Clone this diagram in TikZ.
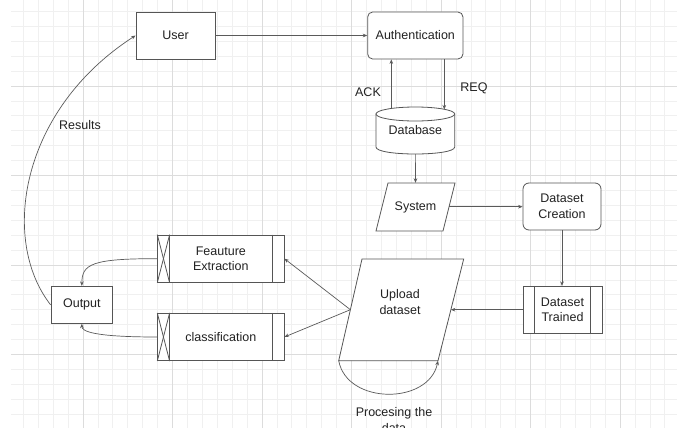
\documentclass[tikz,border=0pt]{standalone}
\usepackage{fontspec}
\setmainfont{Liberation Sans}
\usetikzlibrary{arrows.meta}
\definecolor{edgec}{HTML}{5A5A5A}
\definecolor{boxc}{HTML}{555555}
\definecolor{txtc}{HTML}{222222}
\definecolor{gminor}{HTML}{F0F0F0}
\definecolor{gmajor}{HTML}{DCDCDC}
\begin{document}
\begin{tikzpicture}[x=1pt,y=-1pt,
  txt/.style={font=\fontsize{12.5}{15.7}\selectfont, text=txtc, align=center},
  box/.style={draw=boxc, line width=0.8pt, fill=white, inner sep=0pt, txt},
  boxline/.style={draw=boxc, line width=0.8pt},
  arr/.style={draw=edgec, line width=0.7pt, -{Stealth[length=4.5pt,width=3.6pt]}},
  gmin/.style={draw=gminor, line width=0.8pt},
  gmaj/.style={draw=gmajor, line width=0.8pt}]
\useasboundingbox (0,0) rectangle (677,428);
\fill[white] (0,0) rectangle (677,428);
% grid
\foreach \i in {-4,...,39} \draw[gmin] ({83+14.92*\i},0) -- ({83+14.92*\i},428);
\foreach \k in {-5,...,22} \draw[gmin] (11,{86+14.92*\k}) -- (677,{86+14.92*\k});
\foreach \m in {0,...,6} \draw[gmaj] ({83+89.5*\m},0) -- ({83+89.5*\m},428);
\foreach \m in {0,...,3} \draw[gmaj] (11,{86+89.5*\m}) -- (677,{86+89.5*\m});

% nodes
\node[box, minimum width=79pt, minimum height=47pt] (user) at (175.5,35.5) {User};
\node[box, rounded corners=5pt, minimum width=95.3pt, minimum height=47pt] (auth) at (415.3,35.5) {Authentication};

% database cylinder
\draw[boxline, fill=white] (376,114) -- (376,147) .. controls (376,156.33) and (454.7,156.33) .. (454.7,147) -- (454.7,114) -- cycle;
\draw[boxline, fill=white] (415.35,114) ellipse[x radius=39.35pt, y radius=7pt];
\node[txt, minimum width=78.7pt, minimum height=47pt, inner sep=0pt] (db) at (415.35,130.5) {\raisebox{-5.5pt}{Database}};

% system parallelogram
\draw[boxline, fill=white] (388,183) -- (455,183) -- (443,231) -- (376,231) -- cycle;
\node[txt, minimum width=79pt, minimum height=48pt, inner sep=0pt] (sys) at (415.5,207) {System};

\node[box, rounded corners=6pt, minimum width=78pt, minimum height=47pt] (dc) at (562,206.5) {Dataset\\Creation};

\node[box, minimum width=79pt, minimum height=46.7pt] (dt) at (562.5,309.7) {Dataset\\Trained};
\draw[boxline] ([xshift=12pt]dt.north west) -- ([xshift=12pt]dt.south west);
\draw[boxline] ([xshift=-12pt]dt.north east) -- ([xshift=-12pt]dt.south east);

% upload parallelogram
\draw[boxline, fill=white] (362,259) -- (463.7,259) -- (438,360.7) -- (338.7,360.7) -- cycle;
\node[txt] (up) at (400,302) {Upload\\dataset};

\node[box, minimum width=126.3pt, minimum height=47.3pt] (fe) at (220.85,258.65) {Feauture\\Extraction};
\draw[boxline] ([xshift=12.3pt]fe.north west) -- ([xshift=12.3pt]fe.south west);
\draw[boxline] (fe.north west) -- ([xshift=12.3pt]fe.south west);
\draw[boxline] ([xshift=12.3pt]fe.north west) -- (fe.south west);
\draw[boxline] ([xshift=-12.3pt]fe.north east) -- ([xshift=-12.3pt]fe.south east);

\node[box, minimum width=126.3pt, minimum height=47.3pt] (cl) at (220.85,337) {classification};
\draw[boxline] ([xshift=12.3pt]cl.north west) -- ([xshift=12.3pt]cl.south west);
\draw[boxline] (cl.north west) -- ([xshift=12.3pt]cl.south west);
\draw[boxline] ([xshift=12.3pt]cl.north west) -- (cl.south west);
\draw[boxline] ([xshift=-12.3pt]cl.north east) -- ([xshift=-12.3pt]cl.south east);

\node[box, minimum width=61.7pt, minimum height=37pt] (out) at (81.85,304.8) {Output};

% labels
\node[txt] (ack) at (368,92) {ACK};
\node[txt] (req) at (474,88) {REQ};
\node[txt] (res) at (80,125) {Results};
\node[txt] (proc) at (394,420) {Procesing the\\data};

% coordinates
\coordinate (ackb) at (391.3,108.6);
\coordinate (reqb) at (444.3,109.5);
\coordinate (sysr) at (449,206.7);
\coordinate (upr) at (450.8,309.7);
\coordinate (upl) at (350.4,309.7);
\coordinate (upbl) at (338.7,360.7);
\coordinate (upbr) at (438,360.7);

% connectors
\draw[arr] (user.east) -- (auth.west);
\draw[arr] (ackb) -- (ackb |- auth.south);
\draw[arr] (reqb |- auth.south) -- (reqb);
\draw[arr] (db.south) -- (sys.north);
\draw[arr] (sysr) -- (sysr -| dc.west);
\draw[arr] (dc.south) -- (dc.south |- dt.north);
\draw[arr] (dt.west) -- (upr);
\draw[arr] (upl) -- (fe.east);
\draw[arr] (upl) -- (cl.east);
\draw[arr] (fe.west) .. controls (92,258.65) and (81.85,264) .. (out.north);
\draw[arr] (cl.west) .. controls (92,337) and (81.85,331) .. (out.south);
\draw[arr] (out.west) .. controls (0,240) and (20,110) .. (user.west);
\draw[arr] (upbl) .. controls (347,405) and (429,405) .. (upbr);
\end{tikzpicture}
\end{document}
